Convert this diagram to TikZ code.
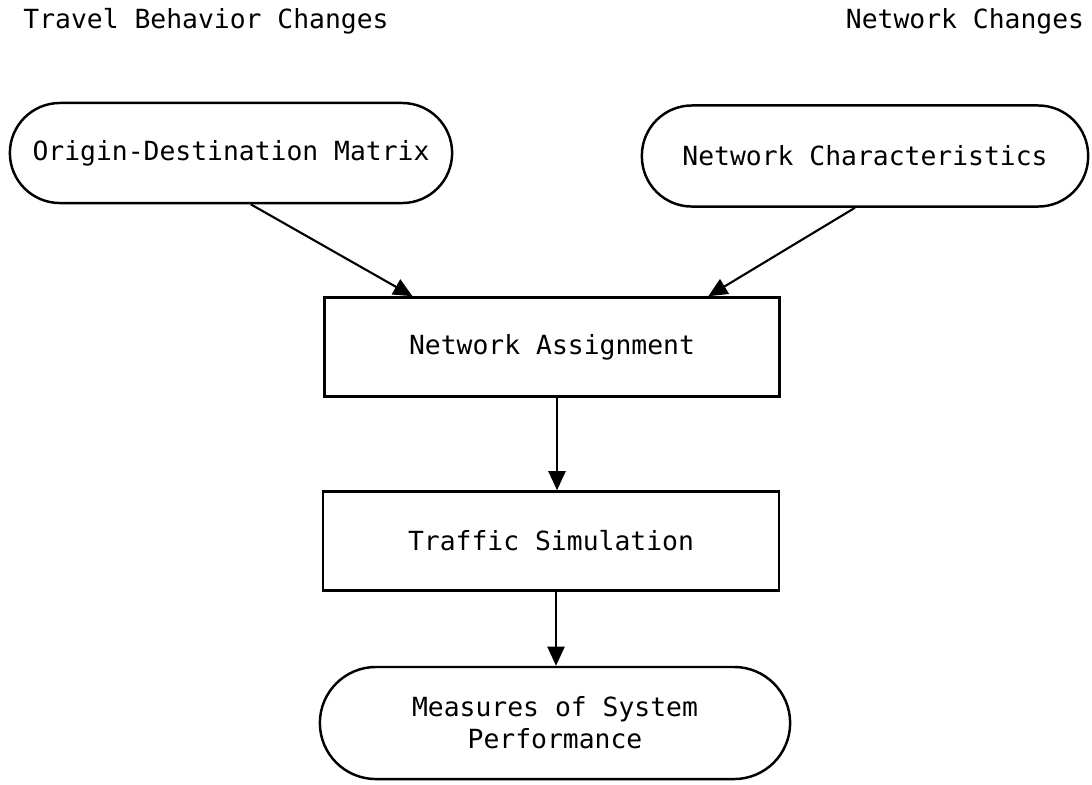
\documentclass[tikz,border=0pt]{standalone}
\usepackage{fontspec}
\setmonofont{DejaVu Sans Mono}
\usetikzlibrary{arrows.meta,calc}
\tikzset{%
  procbox/.style = {shape=rectangle, draw, line width=0.7pt,%
                    minimum width=4.56cm, minimum height=0.99cm},%
  termbox/.style = {procbox, rounded corners=0.5cm},%
  flow/.style    = {-{Triangle[length=0.19cm,width=0.17cm]}, line width=0.6pt}%
}

\begin{document}
\begin{tikzpicture}[x=0.01cm,y=-0.01cm, every node/.style = {font=\ttfamily\fontsize{7.5}{9.1}\selectfont,inner sep=1pt}]%
	\useasboundingbox (0,0) rectangle (1092,784);
	% headings
	\node (travel) at (206,21) {Travel Behavior Changes};%
	\node (netchg) at (965,21) {Network Changes};%
	% inputs
	\node [termbox, minimum width=4.42cm, minimum height=1cm] (od) at (231,153) {Origin-Destination Matrix};%
	\node [termbox, minimum width=4.46cm, minimum height=1.01cm] (nc) at (865,156) {Network Characteristics};%
	% process
	\node [procbox, minimum width=4.55cm] (na) at (552,347) {Network Assignment};%
	\node [procbox] (ts) at (551,541) {Traffic Simulation};%
	\node [termbox, minimum width=4.7cm, minimum height=1.12cm, rounded corners=0.56cm, align=center] (msp) at (555,723) {Measures of System\\Performance};%
	% connectors
	\draw [flow] (od.-69) -- (na.160);%
	\draw [flow] (nc.-101) -- (na.18);%
	\draw [flow] ([xshift=0.05cm]na.south) -- ([xshift=0.05cm]na.south |- ts.north);%
	\draw [flow] ([xshift=0.05cm]ts.south) -- ([xshift=0.05cm]ts.south |- msp.north);%
\end{tikzpicture}
\end{document}
